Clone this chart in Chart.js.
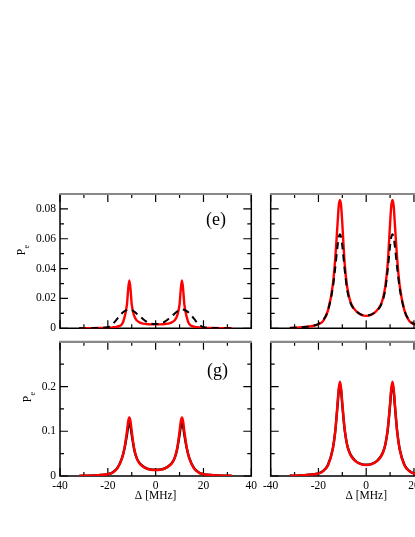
<!DOCTYPE html>
<html lang="en">
<head>
    <meta charset="UTF-8">
    <title>Pe vs detuning</title>
    <script src="https://cdn.jsdelivr.net/npm/chart.js"></script>
    <style>
        html, body { margin: 0; padding: 0; background: #fff; overflow: hidden; }
        body { width: 415px; height: 537px; position: relative; }
        canvas { position: absolute; left: 0; top: 0; }
    </style>
</head>
<body>
    <canvas id="panelE"></canvas>
    <canvas id="panelF"></canvas>
    <canvas id="panelG"></canvas>
    <canvas id="panelH"></canvas>

    <script>
        // detuning in MHz, shared by every curve
        const detuning = [-32,-28,-24,-20,-18,-16,-14,-13,-12,-11.5,-11,-10.5,-10,-9,-8,-7,-6,-4,-2,0,
                          2,4,6,7,8,9,10,10.5,11,11.5,12,13,14,16,18,20,24,28,32];

        // (e)
        const peE_red   = [0,0.0001,0.0002,0.0004,0.0006,0.0012,0.003,0.0075,0.016,0.026,0.032,0.026,0.016,0.0085,0.0055,0.0042,0.0035,0.0029,0.0026,0.0026,
                           0.0026,0.0029,0.0035,0.0042,0.0055,0.0085,0.016,0.026,0.032,0.026,0.016,0.0075,0.003,0.0012,0.0006,0.0004,0.0002,0.0001,0];
        const peE_black = [0,0.0001,0.0002,0.0007,0.0028,0.0065,0.0102,0.0115,0.0123,0.0126,0.0127,0.0126,0.0123,0.0113,0.0099,0.0085,0.0072,0.0046,0.0032,0.0029,
                           0.0032,0.0046,0.0072,0.0085,0.0099,0.0113,0.0123,0.0126,0.0127,0.0126,0.0123,0.0115,0.0102,0.0065,0.0028,0.0007,0.0002,0.0001,0];
        // (f)
        const peF_red   = [0.0002,0.0005,0.0012,0.0027,0.005,0.012,0.029,0.046,0.07,0.082,0.086,0.082,0.07,0.043,0.028,0.02,0.0155,0.0112,0.009,0.0083,
                           0.009,0.0112,0.0155,0.02,0.028,0.043,0.07,0.082,0.086,0.082,0.07,0.046,0.029,0.012,0.005,0.0027,0.0012,0.0005,0.0002];
        const peF_black = [0.0002,0.0006,0.0013,0.003,0.0055,0.012,0.027,0.04,0.055,0.061,0.063,0.061,0.055,0.039,0.026,0.019,0.015,0.0112,0.0092,0.0088,
                           0.0092,0.0112,0.015,0.019,0.026,0.039,0.055,0.061,0.063,0.061,0.055,0.04,0.027,0.012,0.0055,0.003,0.0013,0.0006,0.0002];
        // (g)
        const peG_red   = [0.0003,0.0008,0.0018,0.004,0.0076,0.017,0.041,0.064,0.1,0.122,0.131,0.122,0.1,0.062,0.041,0.03,0.024,0.017,0.014,0.0134,
                           0.014,0.017,0.024,0.03,0.041,0.062,0.1,0.122,0.131,0.122,0.1,0.064,0.041,0.017,0.0076,0.004,0.0018,0.0008,0.0003];
        const peG_black = [0.0003,0.0008,0.0019,0.0042,0.008,0.018,0.041,0.062,0.092,0.11,0.118,0.11,0.092,0.06,0.041,0.031,0.025,0.0175,0.0145,0.014,
                           0.0145,0.0175,0.025,0.031,0.041,0.06,0.092,0.11,0.118,0.11,0.092,0.062,0.041,0.018,0.008,0.0042,0.0019,0.0008,0.0003];
        // (h)
        const peH_red   = [0.0005,0.0014,0.003,0.0055,0.011,0.024,0.06,0.098,0.162,0.196,0.211,0.196,0.162,0.104,0.07,0.052,0.042,0.031,0.026,0.0246,
                           0.026,0.031,0.042,0.052,0.07,0.104,0.162,0.196,0.211,0.196,0.162,0.098,0.06,0.024,0.011,0.0055,0.003,0.0014,0.0005];
        const peH_black = [0.0005,0.0014,0.0031,0.0057,0.0115,0.025,0.061,0.098,0.158,0.19,0.205,0.19,0.158,0.102,0.07,0.053,0.043,0.0315,0.0265,0.025,
                           0.0265,0.0315,0.043,0.053,0.07,0.102,0.158,0.19,0.205,0.19,0.158,0.098,0.061,0.025,0.0115,0.0057,0.0031,0.0014,0.0005];

        // axes
        const xMajor = [-40, -20, 0, 20, 40];
        const xMinor = [-30, -10, 10, 30];
        const xLabels = ['-40', '-20', '0', '20', '40'];
        const yTopMajor = [0, 0.02, 0.04, 0.06, 0.08];
        const yTopMinor = [0.01, 0.03, 0.05, 0.07];
        const yTopLabels = ['0', '0.02', '0.04', '0.06', '0.08'];
        const yBotMajor = [0, 0.1, 0.2];
        const yBotMinor = [0.05, 0.15, 0.25];
        const yBotLabels = ['0', '0.1', '0.2'];

        const SERIF = "'Liberation Serif', 'DejaVu Serif', serif";
        const W = 480, H = 537;

        const framePlugin = {
            id: 'frame',
            beforeDatasetsDraw(chart, args, o) {
                const ctx = chart.ctx, a = chart.chartArea;
                const x = chart.scales.x, y = chart.scales.y;
                ctx.save();
                ctx.strokeStyle = '#000';
                ctx.lineWidth = 1.2;
                function xTick(v, len) {
                    const px = x.getPixelForValue(v);
                    ctx.beginPath();
                    ctx.moveTo(px, a.bottom); ctx.lineTo(px, a.bottom - len);
                    ctx.moveTo(px, a.top); ctx.lineTo(px, a.top + len);
                    ctx.stroke();
                }
                function yTick(v, len) {
                    const py = y.getPixelForValue(v);
                    ctx.beginPath();
                    ctx.moveTo(a.left, py); ctx.lineTo(a.left + len, py);
                    ctx.moveTo(a.right, py); ctx.lineTo(a.right - len, py);
                    ctx.stroke();
                }
                xMajor.forEach(v => xTick(v, 8));
                xMinor.forEach(v => xTick(v, 4));
                o.yMajor.forEach(v => yTick(v, 8));
                o.yMinor.forEach(v => yTick(v, 4));

                ctx.lineWidth = 1.5;
                ctx.beginPath();
                ctx.moveTo(a.left, a.top); ctx.lineTo(a.left, a.bottom);
                ctx.lineTo(a.right, a.bottom); ctx.lineTo(a.right, a.top);
                ctx.stroke();
                ctx.strokeStyle = '#888';
                ctx.lineWidth = 2.2;
                ctx.beginPath();
                ctx.moveTo(a.left - 0.7, a.top); ctx.lineTo(a.right + 0.7, a.top);
                ctx.stroke();
                ctx.restore();
            },
            afterDraw(chart, args, o) {
                const ctx = chart.ctx, a = chart.chartArea;
                ctx.save();
                ctx.fillStyle = '#000';
                if (o.tag) {
                    ctx.font = '18px ' + SERIF;
                    ctx.textAlign = 'center';
                    ctx.textBaseline = 'alphabetic';
                    ctx.fillText(o.tag, a.left + o.tagPos[0], a.top + o.tagPos[1]);
                }
                if (o.pePos) {
                    ctx.save();
                    ctx.translate(o.pePos[0], o.pePos[1]);
                    ctx.rotate(-Math.PI / 2);
                    ctx.textBaseline = 'middle';
                    ctx.textAlign = 'center';
                    ctx.font = '11.5px ' + SERIF;
                    ctx.fillText('P', 0, 0);
                    ctx.textAlign = 'left';
                    ctx.font = '8px ' + SERIF;
                    ctx.fillText('e', 3.5, 4.5);
                    ctx.restore();
                }
                if (o.xTitle) {
                    ctx.font = '11.5px ' + SERIF;
                    ctx.textAlign = 'center';
                    ctx.textBaseline = 'middle';
                    ctx.fillText('\u0394 [MHz]', (a.left + a.right) / 2, o.xTitleY);
                }
                ctx.restore();
            }
        };

        function curve(values, color, dashed) {
            return {
                data: detuning.map((d, i) => ({ x: d, y: values[i] })),
                borderColor: color,
                borderWidth: dashed ? 2 : 2.4,
                borderDash: dashed ? [7, 5] : [],
                pointRadius: 0,
                fill: false,
                cubicInterpolationMode: 'monotone'
            };
        }

        function panel(id, box, yMax, yMajor, yMinor, yLabels, showX, showY, datasets, frame) {
            const canvas = document.getElementById(id);
            canvas.width = W;
            canvas.height = H;
            return new Chart(canvas, {
                type: 'line',
                data: { datasets: datasets },
                options: {
                    responsive: false,
                    animation: false,
                    events: [],
                    layout: { padding: { left: 0, top: box.top, right: W - box.right, bottom: 0 } },
                    plugins: {
                        legend: { display: false },
                        tooltip: { enabled: false },
                        frame: Object.assign({ yMajor: yMajor, yMinor: yMinor }, frame)
                    },
                    scales: {
                        x: {
                            type: 'linear', min: -40, max: 40,
                            grid: { display: false, drawTicks: false },
                            border: { display: false },
                            afterBuildTicks: s => { s.ticks = xMajor.map(v => ({ value: v })); },
                            afterFit: s => { s.height = H - box.bottom; },
                            ticks: {
                                display: showX, autoSkip: false, maxRotation: 0, minRotation: 0,
                                padding: 3, color: '#000',
                                font: { family: SERIF, size: 11.5 },
                                callback: (v, i) => xLabels[i]
                            }
                        },
                        y: {
                            type: 'linear', min: 0, max: yMax,
                            grid: { display: false, drawTicks: false },
                            border: { display: false },
                            afterBuildTicks: s => { s.ticks = yMajor.map(v => ({ value: v })); },
                            afterFit: s => { s.width = box.left; },
                            ticks: {
                                display: showY, autoSkip: false, padding: 4, color: '#000',
                                font: { family: SERIF, size: 11.5 },
                                callback: (v, i) => yLabels[i]
                            }
                        }
                    }
                },
                plugins: [framePlugin]
            });
        }

        panel('panelE', { left: 60, right: 251.3, top: 194, bottom: 328.3 }, 0.09,
              yTopMajor, yTopMinor, yTopLabels, false, true,
              [curve(peE_black, '#000', true), curve(peE_red, '#ff0000', false)],
              { tag: '(e)', tagPos: [156, 31], pePos: [22, 252] });

        panel('panelF', { left: 270.7, right: 461.7, top: 194, bottom: 328.3 }, 0.09,
              yTopMajor, yTopMinor, yTopLabels, false, false,
              [curve(peF_black, '#000', true), curve(peF_red, '#ff0000', false)],
              {});

        panel('panelG', { left: 60, right: 251.3, top: 341.8, bottom: 476 }, 0.3,
              yBotMajor, yBotMinor, yBotLabels, true, true,
              [curve(peG_red, '#ff0000', false), curve(peG_black, '#000', false)],
              { tag: '(g)', tagPos: [157.5, 34], pePos: [28, 399], xTitle: true, xTitleY: 496 });

        panel('panelH', { left: 270.7, right: 461.7, top: 341.8, bottom: 476 }, 0.3,
              yBotMajor, yBotMinor, yBotLabels, true, false,
              [curve(peH_red, '#ff0000', false), curve(peH_black, '#000', false)],
              { xTitle: true, xTitleY: 496 });
    </script>
</body>
</html>
